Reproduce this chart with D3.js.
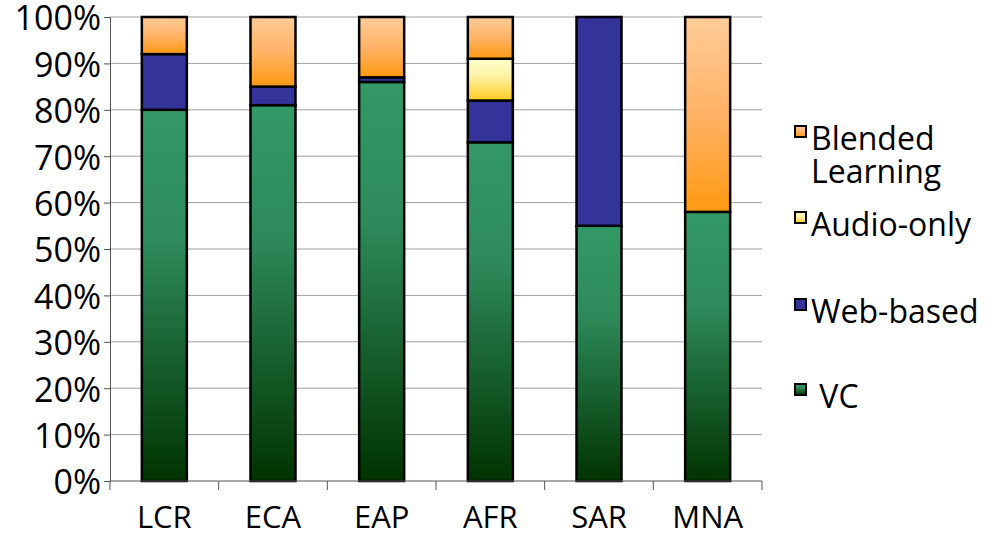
<!DOCTYPE html>
<html>
<head>
<meta charset="utf-8">
<script src="https://cdn.jsdelivr.net/npm/d3@7"></script>
<style>
  body { margin: 0; background: #fff; }
  text { font-family: "Open Sans", sans-serif; fill: #000; }
</style>
</head>
<body>
<svg id="chart" width="987" height="541"></svg>
<script>
var regions = ["LCR", "ECA", "EAP", "AFR", "SAR", "MNA"];
var series = ["VC", "Web-based", "Audio-only", "Blended Learning"];  // bottom to top
var vc       = [80, 81, 86, 73, 55, 58];
var web      = [12, 4, 1, 9, 45, 0];
var audio    = [0, 0, 0, 9, 0, 0];
var blended  = [8, 15, 13, 9, 0, 42];
var yTicks   = [0, 10, 20, 30, 40, 50, 60, 70, 80, 90, 100];

var x0 = 110, x1 = 762;  // plot area
var yTop = 17, yBottom = 481;

var svg = d3.select("#chart");

// gradients for the fills
var defs = svg.append("defs");
function addGradient(id, stops) {
    let g = defs.append("linearGradient")
        .attr("id", id)
        .attr("x1", 0).attr("y1", 0).attr("x2", 0).attr("y2", 1);
    stops.forEach(s => g.append("stop").attr("offset", s[0]).attr("stop-color", s[1]));
}
addGradient("gVC", [["0%", "#339966"], ["35%", "#2e8a5b"], ["100%", "#003300"]]);
addGradient("gWeb", [["0%", "#333399"], ["100%", "#333399"]]);
addGradient("gAudio", [["0%", "#ffffcc"], ["40%", "#fff2a8"], ["100%", "#ffcc22"]]);
addGradient("gBlend", [["0%", "#ffcc99"], ["50%", "#ffb266"], ["100%", "#ff9911"]]);
var fills = {"VC": "url(#gVC)", "Web-based": "url(#gWeb)", "Audio-only": "url(#gAudio)", "Blended Learning": "url(#gBlend)"};

var xScale = d3.scaleBand().domain(regions).range([x0, x1]);
var yScale = d3.scaleLinear().domain([0, 100]).range([yBottom, yTop]);

// gridlines
svg.append("g")
    .selectAll("line")
    .data(yTicks.slice(1))
    .join("line")
    .attr("x1", x0).attr("x2", x1)
    .attr("y1", d => yScale(d)).attr("y2", d => yScale(d))
    .attr("stroke", "#a0a0a0")
    .attr("stroke-width", 1);

// stacked data
var table = regions.map((r, i) => ({
    region: r, "VC": vc[i], "Web-based": web[i], "Audio-only": audio[i], "Blended Learning": blended[i]
}));
var stacked = d3.stack().keys(series)(table);

var barWidth = 45;
svg.append("g")
    .selectAll("g")
    .data(stacked)
    .join("g")
    .attr("fill", d => fills[d.key])
    .selectAll("rect")
    .data(d => d.filter(p => p[1] - p[0] > 0))
    .join("rect")
    .attr("x", d => xScale(d.data.region) + xScale.bandwidth() / 2 - barWidth / 2)
    .attr("y", d => yScale(d[1]))
    .attr("width", barWidth)
    .attr("height", d => yScale(d[0]) - yScale(d[1]))
    .attr("stroke", "#000")
    .attr("stroke-width", 2.5);

// y axis
var yAxis = d3.axisLeft(yScale)
    .tickValues(yTicks)
    .tickFormat(d => d + "%")
    .tickSize(6)
    .tickPadding(3);
var yg = svg.append("g")
    .attr("transform", "translate(" + x0 + ",0)")
    .call(yAxis);
yg.select(".domain").attr("stroke", "#555");
yg.selectAll(".tick line").attr("stroke", "#555");
yg.selectAll("text")
    .style("font-size", "34px")
    .attr("fill", "#000")
    .attr("dy", "0.38em");

// x axis
var xAxis = d3.axisBottom(xScale).tickSize(0).tickPadding(25);
var xg = svg.append("g")
    .attr("transform", "translate(0," + yBottom + ")")
    .call(xAxis);
xg.select(".domain").attr("stroke", "#555").attr("d", "M" + x0 + ",0H" + x1);
xg.selectAll("text").style("font-size", "31px").attr("fill", "#000");
// category separator ticks
xg.append("g")
    .selectAll("line")
    .data(regions.concat(["end"]))
    .join("line")
    .attr("x1", (d, i) => x0 + i * xScale.bandwidth())
    .attr("x2", (d, i) => x0 + i * xScale.bandwidth())
    .attr("y1", 0).attr("y2", 9)
    .attr("stroke", "#555");

// legend (top to bottom), one text per line
var legendItems = [
    {key: "Blended Learning", lines: ["Blended", "Learning"], y: 126},
    {key: "Audio-only", lines: ["Audio-only"], y: 212},
    {key: "Web-based", lines: ["Web-based"], y: 299},
    {key: "VC", lines: ["\u00a0VC"], y: 384}
];
var legend = svg.append("g");
var li = legend.selectAll("g")
    .data(legendItems)
    .join("g")
    .attr("transform", d => "translate(795," + d.y + ")");
li.append("rect")
    .attr("width", 11).attr("height", 11)
    .attr("fill", d => fills[d.key])
    .attr("stroke", "#000")
    .attr("stroke-width", 2);
li.selectAll("text")
    .data(d => d.lines)
    .join("text")
    .attr("x", 16)
    .attr("y", (d, i) => 24 + i * 33)
    .style("font-size", "32px")
    .text(d => d);
</script>
</body>
</html>
